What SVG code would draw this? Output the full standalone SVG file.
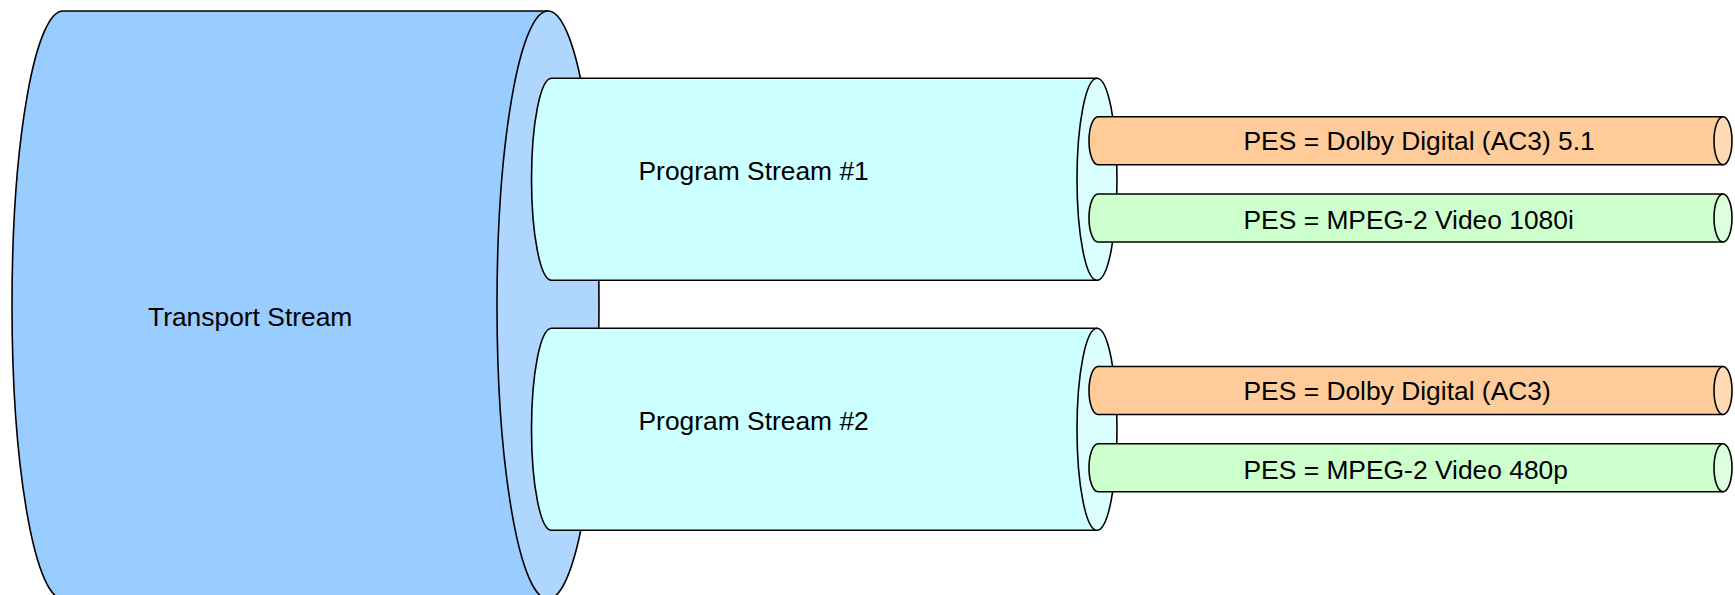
<svg xmlns="http://www.w3.org/2000/svg" width="1735" height="595" viewBox="0 0 1735 595">
<style>
.s{stroke:#000;stroke-width:1.6;stroke-linejoin:round}
.t{font-family:"Liberation Sans",Arial,sans-serif;font-size:26.4px;fill:#000}
.tsb{fill:#99CCFF}.tsf{fill:#AED6FF}
.psb{fill:#CCFFFF}.psf{fill:#DBFFFF}
.ab{fill:#FFCC99}.af{fill:#FFDAB5}
.vb{fill:#CCFFCC}.vf{fill:#DCFFDC}
</style>
<rect width="1735" height="595" fill="#fff"/>
<g id="transport-stream">
<path class="s tsb" d="M548,11 L63,11 A51,294 0 0 0 63,599 L548,599 Z"/>
<ellipse class="s tsf" cx="548" cy="305" rx="51" ry="294"/>
<text class="t" x="148" y="325.5">Transport Stream</text>
</g>
<g id="program-stream-1">
<path class="s psb" d="M1097,78.3 L551.5,78.3 A20,101 0 0 0 551.5,280.3 L1097,280.3 Z"/>
<ellipse class="s psf" cx="1097" cy="179.3" rx="20" ry="101"/>
<text class="t" x="638.5" y="180">Program Stream #1</text>
</g>
<g id="program-stream-2">
<path class="s psb" d="M1097,328.3 L551.5,328.3 A20,101 0 0 0 551.5,530.3 L1097,530.3 Z"/>
<ellipse class="s psf" cx="1097" cy="429.3" rx="20" ry="101"/>
<text class="t" x="638.5" y="430">Program Stream #2</text>
</g>
<g id="pes-ac3-51">
<path class="s ab" d="M1723,116.7 L1098,116.7 A9,24 0 0 0 1098,164.7 L1723,164.7 Z"/>
<ellipse class="s af" cx="1723" cy="140.7" rx="9" ry="24"/>
<text class="t" x="1243.5" y="150">PES = Dolby Digital (AC3) 5.1</text>
</g>
<g id="pes-mpeg2-1080i">
<path class="s vb" d="M1723,194 L1098,194 A9,24 0 0 0 1098,242 L1723,242 Z"/>
<ellipse class="s vf" cx="1723" cy="218" rx="9" ry="24"/>
<text class="t" x="1243.5" y="229.3">PES = MPEG-2 Video 1080i</text>
</g>
<g id="pes-ac3">
<path class="s ab" d="M1723,366.5 L1098,366.5 A9,24 0 0 0 1098,414.5 L1723,414.5 Z"/>
<ellipse class="s af" cx="1723" cy="390.5" rx="9" ry="24"/>
<text class="t" x="1243.5" y="400">PES = Dolby Digital (AC3)</text>
</g>
<g id="pes-mpeg2-480p">
<path class="s vb" d="M1723,443.8 L1098,443.8 A9,24 0 0 0 1098,491.8 L1723,491.8 Z"/>
<ellipse class="s vf" cx="1723" cy="467.8" rx="9" ry="24"/>
<text class="t" x="1243.5" y="479">PES = MPEG-2 Video 480p</text>
</g>
<g id="connectors"/>
</svg>
